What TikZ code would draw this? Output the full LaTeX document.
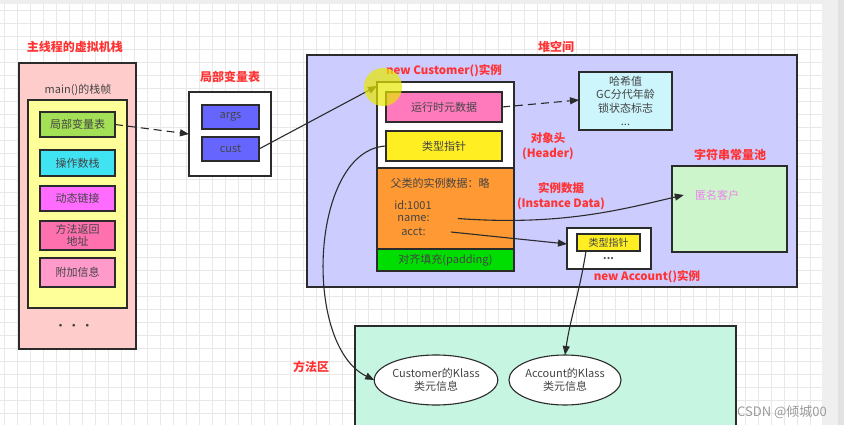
\documentclass[tikz,border=0pt]{standalone}
\usepackage{fontspec}
\setmainfont{Noto Sans CJK SC}
\usetikzlibrary{arrows.meta,shapes.geometric}
\definecolor{redt}{HTML}{FF3333}
\definecolor{bd}{HTML}{2B2B2B}
\definecolor{txt}{HTML}{444444}
\definecolor{gridc}{HTML}{E8E8E8}
\definecolor{topband}{HTML}{EEEEEE}
\definecolor{sidebar}{HTML}{EFEFEF}
\definecolor{sidebard}{HTML}{E2E2E2}
\definecolor{stackc}{HTML}{FFCCCC}
\definecolor{framec}{HTML}{FFFF99}
\definecolor{lvtc}{HTML}{A3E055}
\definecolor{opsc}{HTML}{3FE3F2}
\definecolor{dync}{HTML}{FF6BFF}
\definecolor{retc}{HTML}{FF70AE}
\definecolor{extrac}{HTML}{FF9ACB}
\definecolor{varc}{HTML}{6666FF}
\definecolor{heapc}{HTML}{CCCCFF}
\definecolor{orangec}{HTML}{FF9933}
\definecolor{padc}{HTML}{00DD00}
\definecolor{metac}{HTML}{FF7ABD}
\definecolor{ptrc}{HTML}{FFEE22}
\definecolor{hashc}{HTML}{CCF5FC}
\definecolor{poolc}{HTML}{CCF5CC}
\definecolor{anonc}{HTML}{EE82EE}
\definecolor{methc}{HTML}{C6F5E2}
\definecolor{wmc}{HTML}{9A9A9A}
\definecolor{cursorc}{HTML}{E8E800}
\tikzset{
  x=1pt, y=-1pt,
  box/.style={draw=bd, line width=1.1pt, inner sep=0pt, outer sep=0pt, align=center, text=txt, font=\fontsize{11}{13.5}\selectfont},
  lbl/.style={inner sep=0pt, align=center, text=txt, font=\fontsize{11}{13.5}\selectfont},
  title/.style={inner sep=0pt, align=center, text=redt, font=\bfseries\fontsize{12}{15}\selectfont},
  conn/.style={draw=bd, line width=1.1pt, -{Triangle[length=9pt,width=7pt]}},
  dconn/.style={conn, dash pattern=on 8pt off 5pt},
  ell/.style={ellipse, draw=bd, line width=1.1pt, fill=white, inner sep=0pt, outer sep=0pt, align=center, text=txt, font=\fontsize{11}{13.5}\selectfont}
}
\begin{document}
\begin{tikzpicture}
\useasboundingbox (0,0) rectangle (844,425);
\clip (0,0) rectangle (844,425);
% background grid
\fill[white] (0,0) rectangle (844,425);
\foreach \gx in {4,17,...,822} \draw[gridc, line width=0.5pt] (\gx,4) -- (\gx,425);
\foreach \gy in {10,23,...,425} \draw[gridc, line width=0.5pt] (0,\gy) -- (822,\gy);
\fill[topband] (0,0) rectangle (844,4);
\fill[sidebar] (822,0) rectangle (844,425);
\fill[sidebard] (838,0) rectangle (844,425);

% ---------- virtual machine stack ----------
\node[title] (stitle) at (75,47) {主线程的虚拟机栈};
\node[box, fill=stackc, minimum width=117pt, minimum height=286pt] (stack) at (77.5,206) {};
\node[lbl] (frametitle) at (78,90) {main()的栈帧};
\node[box, fill=framec, minimum width=99pt, minimum height=208pt] (frame) at (77.5,204) {};
\node[box, fill=lvtc, minimum width=75pt, minimum height=25pt] (lvt) at (77.5,124.5) {局部变量表};
\node[box, fill=opsc, minimum width=75pt, minimum height=26pt] (ops) at (77.5,163) {操作数栈};
\node[box, fill=dync, minimum width=75pt, minimum height=25pt] (dyn) at (77.5,198.5) {动态链接};
\node[box, fill=retc, minimum width=75pt, minimum height=29pt, font=\fontsize{11}{12}\selectfont] (ret) at (77.5,235.5) {方法返回\\地址};
\node[box, fill=extrac, minimum width=75pt, minimum height=29pt] (extra) at (77.5,272.5) {附加信息};
\node[lbl, font=\bfseries\fontsize{10}{12}\selectfont] (sdots) at (74,327) {·\,\,·\,\,·};

% ---------- local variable table ----------
\node[title] (lvtitle) at (230,77) {局部变量表};
\node[box, fill=white, minimum width=82pt, minimum height=84pt] (lvbox) at (230,134) {};
\node[box, fill=varc, minimum width=57pt, minimum height=24pt] (args) at (230.5,117) {args};
\node[box, fill=varc, minimum width=57pt, minimum height=24pt] (cust) at (230.5,149) {cust};

% ---------- heap ----------
\node[title] (htitle) at (556,47) {堆空间};
\node[box, fill=heapc, minimum width=490pt, minimum height=232pt] (heap) at (552,171) {};
\node[title, font=\bfseries\fontsize{11.5}{14}\selectfont] (custtitle) at (444,71) {new Customer()实例};
\node[box, fill=white, minimum width=137pt, minimum height=86pt] (custobj) at (445.5,125) {};
\node[box, fill=orangec, minimum width=137pt, minimum height=81pt] (inst) at (445.5,208.5) {};
\node[box, fill=padc, minimum width=137pt, minimum height=22pt] (pad) at (445.5,260) {对齐填充(padding)};
\node[box, fill=metac, minimum width=116pt, minimum height=30pt] (meta) at (444,107) {运行时元数据};
\node[box, fill=ptrc, minimum width=116pt, minimum height=30pt] (tptr) at (444,146) {类型指针};
\node[lbl] (parent) at (440,183) {父类的实例数据：略};
\node[lbl] (idn) at (413,205) {id:1001};
\node[lbl] (namen) at (413.5,218.5) {name:};
\node[lbl] (acctn) at (413.5,232) {acct:};

\node[box, fill=hashc, minimum width=93pt, minimum height=58pt, font=\fontsize{11}{13.5}\selectfont] (hash) at (625.5,101) {哈希值\\GC分代年龄\\锁状态标志\\...};
\node[title, font=\bfseries\fontsize{11.5}{15}\selectfont] (hdr) at (548,146) {对象头\\(Header)};
\node[title, font=\bfseries\fontsize{11.5}{15}\selectfont] (instl) at (561,196) {实例数据\\(Instance Data)};

\node[title] (pooltitle) at (730,155) {字符串常量池};
\node[box, fill=poolc, minimum width=115pt, minimum height=86pt] (pool) at (729.5,209) {};
\node[lbl, text=anonc, inner xsep=11pt] (anon) at (717,195) {匿名客户};

\node[box, fill=white, minimum width=84pt, minimum height=41pt] (acctobj) at (609,248.5) {};
\node[box, fill=ptrc, minimum width=63pt, minimum height=17pt, font=\fontsize{10}{11}\selectfont] (acctptr) at (608.5,242.5) {类型指针};
\node[lbl, font=\bfseries\fontsize{10}{12}\selectfont] (adots) at (608.5,259) {...};
\node[title, font=\bfseries\fontsize{11.5}{14}\selectfont] (accttitle) at (647,277) {new Account()实例};

% ---------- method area ----------
\node[box, fill=methc, minimum width=381pt, minimum height=120pt, anchor=north west] (marea) at (355,326) {};
\node[title] (mtitle) at (311,367) {方法区};
\node[ell, minimum width=112pt, minimum height=50pt] (ce) at (436,380) {Customer的Klass\\类元信息};
\node[ell, minimum width=104pt, minimum height=50pt] (ae) at (565,380) {Account的Klass\\类元信息};

\node[lbl, text=wmc, font=\fontsize{13}{15}\selectfont] (wm) at (782,412) {CSDN @倾城00};

% ---------- connectors ----------
\draw[dconn] (lvt.east) -- (lvbox.west);
\draw[conn] (cust.east) -- ([yshift=-4pt]custobj.north west);
\draw[dconn] (meta.east) -- ([yshift=1pt]hash.west);
\draw[conn] ([xshift=28pt]namen.east) .. controls (560,226) and (620,210) .. (anon.west);
\draw[conn] ([xshift=25pt]acctn.east) -- ([yshift=-16pt]acctobj.north west);
\draw[conn] (tptr.west) .. controls (310,150) and (302,345) .. (ce.west);
\draw[conn] ([xshift=9pt]acctptr.south west) .. controls (580,290) and (570,320) .. (ae.north);

% cursor highlight
\fill[cursorc, opacity=0.7] (383,87) circle (19pt);
\end{tikzpicture}
\end{document}
